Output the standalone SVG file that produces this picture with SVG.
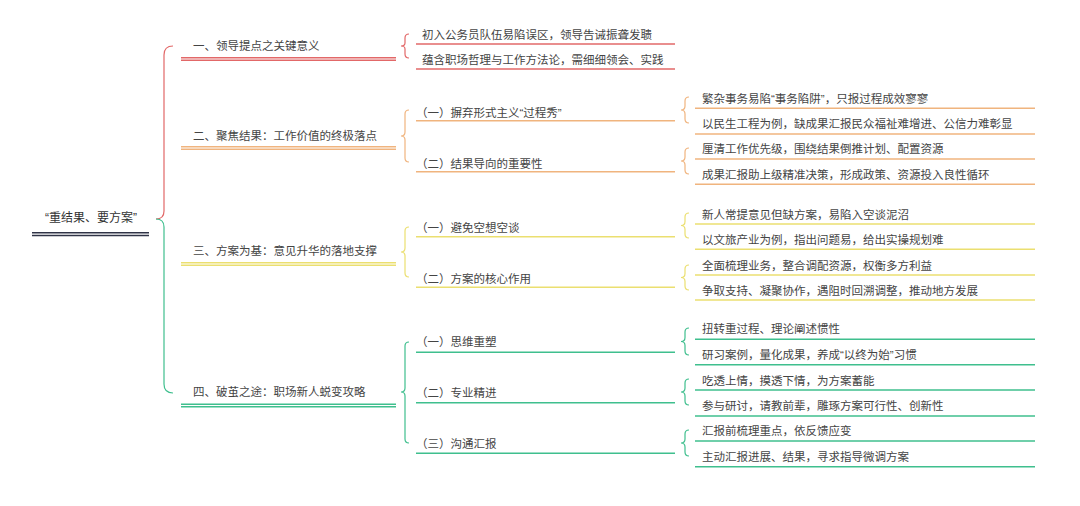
<svg xmlns="http://www.w3.org/2000/svg" width="1080" height="506" viewBox="0 0 1080 506">
<style>
text{font-family:"Liberation Sans","Noto Sans CJK SC",sans-serif;font-size:11.5px;fill:#444}
.root{font-size:12px;fill:#333;text-anchor:middle}
.b{fill:none;stroke-width:1.2}
.ul{fill:none;stroke-width:1.4}
.red{stroke:#e26868}
.org{stroke:#f0b47e}
.yel{stroke:#ebdf70}
.grn{stroke:#3fbf8e}
.dark{stroke:#2f3346}
</style>
<rect width="1080" height="506" fill="#fff"/>
<g id="connectors">
<path class="b red" stroke-width="1.8" d="M173,46 Q164,46 164,55 L164,211 Q164,219 156,219"/>
<path class="b grn" stroke-width="1.8" d="M156,219 Q164,219 164,227 L164,384 Q164,393 173,393"/>
<path class="b red" d="M409,34 Q405,34 405,38 L405,43 Q405,46 401,46 Q405,46 405,49 L405,54 Q405,58 409,58"/>
<path class="b org" d="M409,110 Q405,110 405,114 L405,132 Q405,136 401,136 Q405,136 405,140 L405,158 Q405,162 409,162"/>
<path class="b yel" d="M409,227 Q405,227 405,231 L405,248 Q405,252 401,252 Q405,252 405,256 L405,273 Q405,277 409,277"/>
<path class="b grn" d="M409,342 Q405,342 405,346 L405,388 Q405,392 401,392 Q405,392 405,396 L405,439 Q405,443 409,443"/>
<path class="b org" d="M689,97 Q685,97 685,101 L685,106 Q685,110 681,110 Q685,110 685,114 L685,119 Q685,123 689,123"/>
<path class="b org" d="M689,148 Q685,148 685,152 L685,157 Q685,161 681,161 Q685,161 685,165 L685,170 Q685,174 689,174"/>
<path class="b yel" d="M689,213 Q685,213 685,217 L685,221.5 Q685,225.5 681,225.5 Q685,225.5 685,229.5 L685,234 Q685,238 689,238"/>
<path class="b yel" d="M689,265 Q685,265 685,269 L685,273.5 Q685,277.5 681,277.5 Q685,277.5 685,281.5 L685,286 Q685,290 689,290"/>
<path class="b grn" d="M689,328 Q685,328 685,332 L685,337.5 Q685,341.5 681,341.5 Q685,341.5 685,345.5 L685,351 Q685,355 689,355"/>
<path class="b grn" d="M689,379 Q685,379 685,383 L685,388 Q685,392 681,392 Q685,392 685,396 L685,401 Q685,405 689,405"/>
<path class="b grn" d="M689,430 Q685,430 685,434 L685,439 Q685,443 681,443 Q685,443 685,447 L685,452 Q685,456 689,456"/>
</g>
<g id="root">
<text class="root" x="91" y="222">“重结果、要方案”</text>
<line class="ul dark" x1="32" y1="232.7" x2="149" y2="232.7"/>
<line class="ul dark" x1="32" y1="235.5" x2="149" y2="235.5"/>
</g>
<g id="b1">
<text x="193" y="49.5">一、领导提点之关键意义</text>
<line class="ul red" x1="181" y1="57.7" x2="396" y2="57.7"/>
<line class="ul red" x1="181" y1="60.2" x2="396" y2="60.2"/>
</g>
<g id="b1c1"><text x="422" y="38.5">初入公务员队伍易陷误区，领导告诫振聋发聩</text><line class="ul red" x1="416" y1="44" x2="675" y2="44"/></g>
<g id="b1c2"><text x="422" y="63.5">蕴含职场哲理与工作方法论，需细细领会、实践</text><line class="ul red" x1="416" y1="69" x2="675" y2="69"/></g>
<g id="b2">
<text x="193" y="139.5">二、聚焦结果：工作价值的终极落点</text>
<line class="ul org" x1="181" y1="146.7" x2="396" y2="146.7"/>
<line class="ul org" x1="181" y1="149.2" x2="396" y2="149.2"/>
</g>
<g id="b2c1"><text x="416" y="116.5">（一）摒弃形式主义“过程秀”</text><line class="ul org" x1="416" y1="120.7" x2="675" y2="120.7"/></g>
<g id="b2c2"><text x="416" y="167.5">（二）结果导向的重要性</text><line class="ul org" x1="416" y1="171.7" x2="675" y2="171.7"/></g>
<g id="b2c1g1"><text x="702" y="102.5">繁杂事务易陷“事务陷阱”，只报过程成效寥寥</text><line class="ul org" x1="695" y1="108.3" x2="1035" y2="108.3"/></g>
<g id="b2c1g2"><text x="702" y="127.5">以民生工程为例，缺成果汇报民众福祉难增进、公信力难彰显</text><line class="ul org" x1="695" y1="134" x2="1035" y2="134"/></g>
<g id="b2c2g1"><text x="702" y="152.5">厘清工作优先级，围绕结果倒推计划、配置资源</text><line class="ul org" x1="695" y1="159" x2="1035" y2="159"/></g>
<g id="b2c2g2"><text x="702" y="178.5">成果汇报助上级精准决策，形成政策、资源投入良性循环</text><line class="ul org" x1="695" y1="184.3" x2="1035" y2="184.3"/></g>
<g id="b3">
<text x="193" y="255">三、方案为基：意见升华的落地支撑</text>
<line class="ul yel" x1="181" y1="262.7" x2="396" y2="262.7"/>
<line class="ul yel" x1="181" y1="265.2" x2="396" y2="265.2"/>
</g>
<g id="b3c1"><text x="416" y="231.5">（一）避免空想空谈</text><line class="ul yel" x1="416" y1="236.7" x2="675" y2="236.7"/></g>
<g id="b3c2"><text x="416" y="282.5">（二）方案的核心作用</text><line class="ul yel" x1="416" y1="287.3" x2="675" y2="287.3"/></g>
<g id="b3c1g1"><text x="702" y="218.5">新人常提意见但缺方案，易陷入空谈泥沼</text><line class="ul yel" x1="695" y1="224" x2="1035" y2="224"/></g>
<g id="b3c1g2"><text x="702" y="243.5">以文旅产业为例，指出问题易，给出实操规划难</text><line class="ul yel" x1="695" y1="249.3" x2="1035" y2="249.3"/></g>
<g id="b3c2g1"><text x="702" y="269.5">全面梳理业务，整合调配资源，权衡多方利益</text><line class="ul yel" x1="695" y1="275" x2="1035" y2="275"/></g>
<g id="b3c2g2"><text x="702" y="294.5">争取支持、凝聚协作，遇阻时回溯调整，推动地方发展</text><line class="ul yel" x1="695" y1="300" x2="1035" y2="300"/></g>
<g id="b4">
<text x="193" y="396">四、破茧之途：职场新人蜕变攻略</text>
<line class="ul grn" x1="181" y1="404.3" x2="396" y2="404.3"/>
<line class="ul grn" x1="181" y1="406.8" x2="396" y2="406.8"/>
</g>
<g id="b4c1"><text x="416" y="346">（一）思维重塑</text><line class="ul grn" x1="416" y1="352.3" x2="675" y2="352.3"/></g>
<g id="b4c2"><text x="416" y="397">（二）专业精进</text><line class="ul grn" x1="416" y1="402.7" x2="675" y2="402.7"/></g>
<g id="b4c3"><text x="416" y="448">（三）沟通汇报</text><line class="ul grn" x1="416" y1="453.3" x2="675" y2="453.3"/></g>
<g id="b4c1g1"><text x="702" y="332.5">扭转重过程、理论阐述惯性</text><line class="ul grn" x1="695" y1="339.3" x2="1035" y2="339.3"/></g>
<g id="b4c1g2"><text x="702" y="358.5">研习案例，量化成果，养成“以终为始”习惯</text><line class="ul grn" x1="695" y1="364.8" x2="1035" y2="364.8"/></g>
<g id="b4c2g1"><text x="702" y="384.5">吃透上情，摸透下情，为方案蓄能</text><line class="ul grn" x1="695" y1="390" x2="1035" y2="390"/></g>
<g id="b4c2g2"><text x="702" y="410">参与研讨，请教前辈，雕琢方案可行性、创新性</text><line class="ul grn" x1="695" y1="416" x2="1035" y2="416"/></g>
<g id="b4c3g1"><text x="702" y="435">汇报前梳理重点，依反馈应变</text><line class="ul grn" x1="695" y1="441" x2="1035" y2="441"/></g>
<g id="b4c3g2"><text x="702" y="461">主动汇报进展、结果，寻求指导微调方案</text><line class="ul grn" x1="695" y1="466.7" x2="1035" y2="466.7"/></g>
</svg>
